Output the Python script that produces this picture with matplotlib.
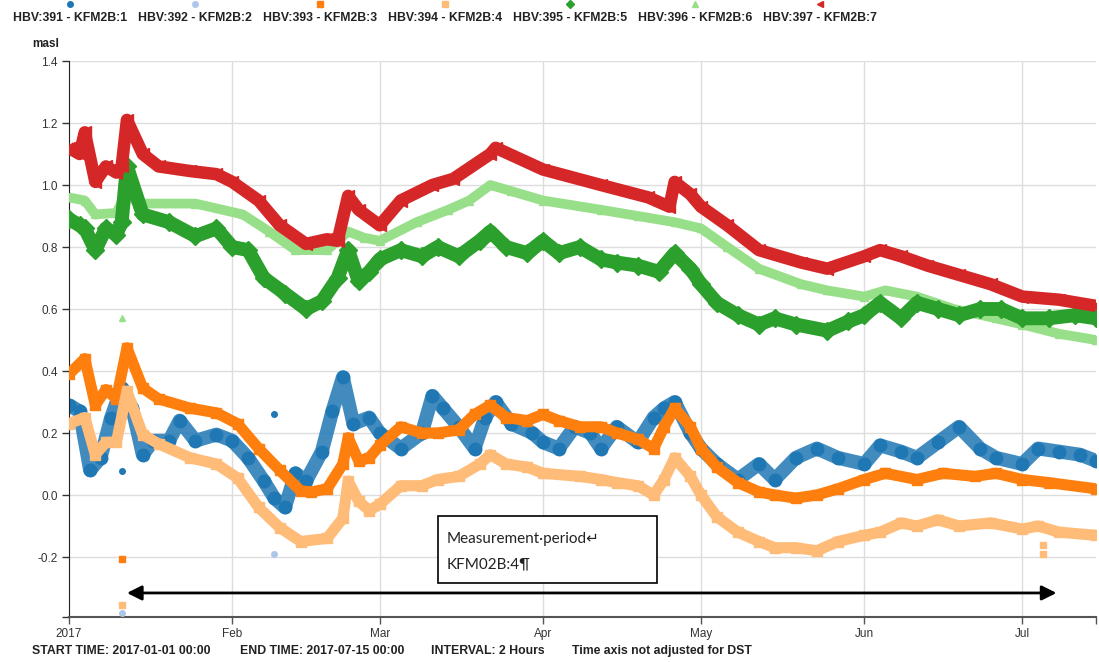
import matplotlib
matplotlib.use("Agg")
import matplotlib.pyplot as plt
from matplotlib.patches import Rectangle
import pandas as pd

plt.rcParams['font.family'] = ['Liberation Sans', 'DejaVu Sans']

# --- groundwater level series, metres above sea level ---
series_names = ["HBV:391 - KFM2B:1", "HBV:392 - KFM2B:2", "HBV:393 - KFM2B:3",
                "HBV:394 - KFM2B:4", "HBV:395 - KFM2B:5", "HBV:396 - KFM2B:6",
                "HBV:397 - KFM2B:7"]
series_colors = ["#1f77b4", "#aec7e8", "#ff7f0e", "#ffbb78", "#2ca02c", "#98df8a", "#d62728"]
series_markers = ["o", "o", "s", "s", "D", "^", "<"]

kfm1_dates = ["01-01", "01-03", "01-05", "01-07", "01-09", "01-11", "01-13", "01-15", "01-17",
              "01-20", "01-22", "01-25", "01-29", "02-01", "02-04", "02-07", "02-09", "02-11",
              "02-13", "02-15", "02-18", "02-20", "02-22", "02-24", "02-27", "03-01", "03-05",
              "03-09", "03-11", "03-13", "03-16", "03-19", "03-21", "03-23", "03-26", "03-30",
              "04-01", "04-04", "04-07", "04-10", "04-12", "04-15", "04-19", "04-22", "04-24",
              "04-26", "04-29", "05-01", "05-04", "05-08", "05-12", "05-15", "05-19", "05-23",
              "05-27", "06-01", "06-04", "06-08", "06-11", "06-15", "06-19", "06-23", "06-26",
              "07-01", "07-04", "07-08", "07-12", "07-15"]
kfm1_masl = [0.29, 0.27, 0.08, 0.12, 0.25, 0.345, 0.28, 0.13, 0.175,
             0.175, 0.24, 0.175, 0.195, 0.175, 0.12, 0.045, -0.01, -0.04,
             0.07, 0.045, 0.14, 0.27, 0.38, 0.23, 0.25, 0.20, 0.15,
             0.20, 0.32, 0.28, 0.22, 0.15, 0.25, 0.30, 0.23, 0.20,
             0.17, 0.15, 0.22, 0.20, 0.15, 0.22, 0.17, 0.25, 0.28,
             0.30, 0.20, 0.15, 0.10, 0.05, 0.10, 0.05, 0.12, 0.15,
             0.12, 0.10, 0.16, 0.14, 0.12, 0.17, 0.22, 0.15, 0.12,
             0.10, 0.15, 0.14, 0.13, 0.11]

kfm2_dates = ["01-11", "02-09"]
kfm2_masl = [-0.38, -0.19]

kfm3_dates = ["01-01", "01-04", "01-06", "01-08", "01-10", "01-12", "01-15", "01-18", "01-24",
              "01-29", "02-02", "02-06", "02-10", "02-14", "02-16", "02-19", "02-22", "02-23",
              "02-25", "02-27", "03-01", "03-05", "03-09", "03-12", "03-16", "03-19", "03-22",
              "03-25", "03-29", "04-01", "04-04", "04-08", "04-12", "04-15", "04-19", "04-22",
              "04-24", "04-26", "04-29", "05-01", "05-04", "05-08", "05-12", "05-15", "05-19",
              "05-23", "05-27", "06-01", "06-05", "06-11", "06-16", "06-22", "06-26", "07-01",
              "07-06", "07-15"]
kfm3_masl = [0.39, 0.44, 0.29, 0.34, 0.31, 0.475, 0.345, 0.31, 0.28,
             0.265, 0.23, 0.15, 0.08, 0.013, 0.01, 0.02, 0.10, 0.185,
             0.11, 0.12, 0.16, 0.22, 0.20, 0.20, 0.21, 0.26, 0.29,
             0.25, 0.24, 0.26, 0.24, 0.22, 0.22, 0.20, 0.18, 0.15,
             0.22, 0.28, 0.22, 0.15, 0.09, 0.04, 0.01, 0.00, -0.01,
             0.00, 0.02, 0.05, 0.07, 0.05, 0.07, 0.06, 0.07, 0.05,
             0.04, 0.02]

kfm4_dates = ["01-01", "01-04", "01-06", "01-08", "01-10", "01-12", "01-15", "01-18", "01-24",
              "01-29", "02-02", "02-06", "02-10", "02-14", "02-19", "02-22", "02-23", "02-25",
              "02-27", "03-01", "03-05", "03-09", "03-12", "03-16", "03-20", "03-22", "03-25",
              "03-29", "04-01", "04-08", "04-12", "04-15", "04-19", "04-22", "04-24", "04-26",
              "04-29", "05-01", "05-04", "05-08", "05-12", "05-15", "05-19", "05-23", "05-27",
              "06-01", "06-04", "06-08", "06-11", "06-15", "06-19", "06-25", "07-01", "07-04",
              "07-08", "07-15"]
kfm4_masl = [0.23, 0.25, 0.13, 0.17, 0.17, 0.335, 0.195, 0.165, 0.12,
             0.10, 0.055, -0.04, -0.105, -0.15, -0.14, -0.075, 0.045, -0.02,
             -0.05, -0.03, 0.03, 0.03, 0.05, 0.06, 0.10, 0.13, 0.10,
             0.09, 0.07, 0.06, 0.05, 0.04, 0.03, 0.00, 0.05, 0.12,
             0.06, 0.00, -0.07, -0.12, -0.15, -0.17, -0.17, -0.18, -0.15,
             -0.13, -0.12, -0.09, -0.10, -0.08, -0.10, -0.09, -0.11, -0.10,
             -0.12, -0.13]

kfm5_dates = ["01-01", "01-03", "01-04", "01-06", "01-08", "01-10", "01-11", "01-12", "01-15",
              "01-20", "01-25", "01-29", "02-01", "02-04", "02-07", "02-11", "02-15", "02-18",
              "02-21", "02-23", "02-25", "02-27", "03-01", "03-05", "03-09", "03-12", "03-16",
              "03-20", "03-22", "03-25", "03-29", "04-01", "04-04", "04-08", "04-12", "04-15",
              "04-19", "04-23", "04-26", "04-29", "05-01", "05-04", "05-08", "05-12", "05-15",
              "05-19", "05-25", "05-29", "06-01", "06-04", "06-08", "06-11", "06-15", "06-19",
              "06-23", "06-27", "07-01", "07-06", "07-11", "07-15"]
kfm5_masl = [0.89, 0.87, 0.86, 0.79, 0.86, 0.84, 0.88, 1.06, 0.905,
             0.88, 0.835, 0.86, 0.80, 0.79, 0.70, 0.65, 0.60, 0.625,
             0.70, 0.79, 0.69, 0.72, 0.76, 0.79, 0.77, 0.80, 0.77,
             0.82, 0.85, 0.80, 0.78, 0.82, 0.78, 0.80, 0.76, 0.75,
             0.74, 0.72, 0.78, 0.73, 0.68, 0.62, 0.58, 0.55, 0.57,
             0.55, 0.53, 0.56, 0.58, 0.62, 0.57, 0.62, 0.60, 0.58,
             0.60, 0.60, 0.57, 0.57, 0.58, 0.57]

kfm6_dates = ["01-01", "01-04", "01-06", "01-10", "01-12", "01-14", "01-25", "02-03", "02-08",
              "02-13", "02-19", "02-23", "02-26", "03-01", "03-08", "03-14", "03-18", "03-22",
              "03-26", "04-01", "04-12", "04-19", "04-26", "05-01", "05-06", "05-12", "05-20",
              "05-25", "06-01", "06-05", "06-11", "06-18", "06-26", "07-01", "07-08", "07-15"]
kfm6_masl = [0.96, 0.95, 0.905, 0.91, 0.98, 0.94, 0.94, 0.905, 0.85,
             0.79, 0.79, 0.85, 0.83, 0.82, 0.88, 0.92, 0.95, 1.00,
             0.98, 0.95, 0.92, 0.90, 0.88, 0.86, 0.80, 0.73, 0.68,
             0.66, 0.64, 0.66, 0.64, 0.60, 0.57, 0.55, 0.52, 0.50]

kfm7_dates = ["01-01", "01-03", "01-04", "01-06", "01-08", "01-10", "01-11", "01-12", "01-15",
              "01-18", "01-24", "01-29", "02-01", "02-06", "02-10", "02-15", "02-19", "02-21",
              "02-23", "02-25", "03-01", "03-05", "03-11", "03-15", "03-22", "03-23", "04-01",
              "04-12", "04-21", "04-25", "04-26", "04-29", "05-01", "05-06", "05-12", "05-20",
              "05-25", "06-01", "06-04", "06-08", "06-13", "06-19", "06-25", "07-01", "07-08",
              "07-15"]
kfm7_masl = [1.12, 1.10, 1.17, 1.01, 1.06, 1.04, 1.06, 1.21, 1.10,
             1.06, 1.045, 1.035, 1.01, 0.95, 0.87, 0.81, 0.825, 0.82,
             0.965, 0.92, 0.87, 0.95, 1.00, 1.02, 1.10, 1.12, 1.05,
             1.00, 0.96, 0.93, 1.01, 0.97, 0.93, 0.87, 0.79, 0.75,
             0.73, 0.77, 0.79, 0.77, 0.74, 0.71, 0.68, 0.64, 0.63,
             0.61]

# stray single readings
stray_kfm1_dates = ["01-11", "02-09"]
stray_kfm1_masl = [0.077, 0.26]
stray_kfm3_dates = ["01-11"]
stray_kfm3_masl = [-0.205]
stray_kfm4_dates = ["01-11", "07-05", "07-05"]
stray_kfm4_masl = [-0.355, -0.16, -0.19]
stray_kfm6_dates = ["01-11"]
stray_kfm6_masl = [0.57]

period_start = "01-12"
period_end = "07-07 12:00"
period_level = -0.316

y_ticks = [-0.2, 0.0, 0.2, 0.4, 0.6, 0.8, 1.0, 1.2, 1.4]
month_ticks = ["01-01", "02-01", "03-01", "04-01", "05-01", "06-01", "07-01"]
month_labels = ["2017", "Feb", "Mar", "Apr", "May", "Jun", "Jul"]
footer_items = ["START TIME: 2017-01-01 00:00", "END TIME: 2017-07-15 00:00",
                "INTERVAL: 2 Hours", "Time axis not adjusted for DST"]


def d(days):
    return pd.to_datetime(["2017-" + s for s in days])


W, H = 1099, 662
fig = plt.figure(figsize=(W / 100, H / 100), dpi=100)
ax = fig.add_axes([69 / W, 1 - 617 / H, (1096 - 69) / W, (617 - 61) / H])

ax.set_xlim(d(["01-01"])[0], d(["07-15"])[0])
ax.set_ylim(1.4 - (617 - 61) / 310, 1.4)

# bands drawn in series order: (dates, values, series index, line width, alpha)
bands = [
    (kfm1_dates, kfm1_masl, 0, 10.0, 0.85),
    (kfm3_dates, kfm3_masl, 2, 8.0, 1.0),
    (kfm4_dates, kfm4_masl, 3, 8.0, 1.0),
    (kfm5_dates, kfm5_masl, 4, 10.0, 1.0),
    (kfm6_dates, kfm6_masl, 5, 7.0, 1.0),
    (kfm7_dates, kfm7_masl, 6, 9.0, 1.0),
]
for z, (dates, vals, i, lw, a) in enumerate(bands, start=2):
    ax.plot(d(dates), vals, color=series_colors[i], lw=lw, alpha=a, solid_joinstyle="round",
            solid_capstyle="butt", zorder=z)
    ax.plot(d(dates), vals, ls="none", marker=series_markers[i], ms=lw * 0.9,
            color=series_colors[i], zorder=z)

# light green sits under the dark green band
ax.lines[8].set_zorder(4.5)
ax.lines[9].set_zorder(4.5)

strays = [
    (kfm2_dates, kfm2_masl, 1),
    (stray_kfm1_dates, stray_kfm1_masl, 0),
    (stray_kfm3_dates, stray_kfm3_masl, 2),
    (stray_kfm4_dates, stray_kfm4_masl, 3),
    (stray_kfm6_dates, stray_kfm6_masl, 5),
]
for dates, vals, i in strays:
    ax.plot(d(dates), vals, ls="none", marker=series_markers[i], ms=4,
            color=series_colors[i], zorder=8)

# measurement period arrow
ax.annotate("", xy=(d([period_end])[0], period_level), xytext=(d([period_start])[0], period_level),
            arrowprops=dict(arrowstyle="<|-|>", lw=2, color="black", mutation_scale=22,
                            shrinkA=0, shrinkB=0), zorder=9)

# axes styling
ax.set_xticks(d(month_ticks))
ax.set_xticklabels(month_labels)
ax.set_xticks([d(["07-15"])[0]], minor=True)
ax.set_yticks(y_ticks)
ax.set_yticklabels([f"{v:.1f}" for v in y_ticks])
ax.set_yticks([ax.get_ylim()[0]], minor=True)
ax.grid(True, color="#dddddd", lw=1)
ax.set_axisbelow(True)
for side in ("top", "right"):
    ax.spines[side].set_visible(False)
ax.spines["left"].set_color("#222222")
ax.spines["bottom"].set_color("#555555")
ax.spines["bottom"].set_linewidth(1.5)
ax.tick_params(axis="both", which="both", direction="out", length=5, width=1,
               colors="#333333", labelsize=8.5, pad=3)
ax.tick_params(axis="x", which="both", color="#555555")

# overlay in pixel coordinates for header, footer and text box
ov = fig.add_axes([0, 0, 1, 1], facecolor="none")
ov.set_xlim(0, W)
ov.set_ylim(H, 0)
ov.axis("off")

for i, name in enumerate(series_names):
    x0 = 13 + 125 * i
    ov.text(x0, 18, name, fontsize=8.8, fontweight="bold", color="#222222",
            ha="left", va="center")
    ov.plot(x0 + 57, 4, marker=series_markers[i], ms=4, color=series_colors[i], ls="none")

ov.text(46, 44, "masl", fontsize=8.5, fontweight="bold", color="#222222", ha="center", va="center")

for x0, txt in zip([32, 240, 431, 572], footer_items):
    ov.text(x0, 651, txt, fontsize=8.8, fontweight="bold", color="#222222",
            ha="left", va="center")

ov.add_patch(Rectangle((438, 516), 219, 67, facecolor="white", edgecolor="black", lw=1.2, zorder=10))
ov.text(447, 539, "Measurement\u00b7period\u21b5", fontsize=11, color="#222222",
        family=["Lato", "DejaVu Sans"], ha="left", va="center", zorder=11)
ov.text(447, 564, "KFM02B:4\u00b6", fontsize=11, color="#222222",
        family=["Lato", "DejaVu Sans"], ha="left", va="center", zorder=11)

fig.savefig("out.png", dpi=100)
